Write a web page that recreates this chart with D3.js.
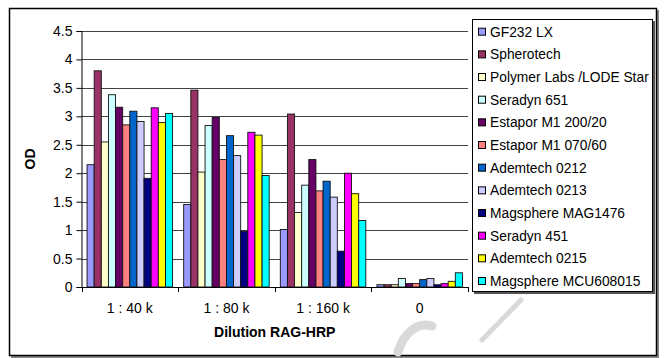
<!DOCTYPE html>
<html>
<head>
<meta charset="utf-8">
<script src="https://cdn.jsdelivr.net/npm/d3@7"></script>
<style>
  html, body { margin: 0; padding: 0; background: #fff; }
  svg { display: block; font-family: "Liberation Sans", Arial, sans-serif; }
</style>
</head>
<body>
<svg id="chart" width="664" height="358"></svg>
<script>
// Dilution categories along the x axis
const dilutions = ["1 : 40 k", "1 : 80 k", "1 : 160 k", "0"];

// Bead products (one bar per product in every dilution group)
const products = [
  "GF232 LX", "Spherotech", "Polymer Labs /LODE Star", "Seradyn 651",
  "Estapor M1 200/20", "Estapor M1 070/60", "Ademtech 0212", "Ademtech 0213",
  "Magsphere MAG1476", "Seradyn 451", "Ademtech 0215", "Magsphere MCU608015"
];

const productColors = [
  "#9999FF", "#993366", "#FFFFCC", "#CCFFFF",
  "#660066", "#FF8080", "#0066CC", "#CCCCFF",
  "#000080", "#FF00FF", "#FFFF00", "#00FFFF"
];

// OD readings, one array per dilution, in product order
const od_1_40k  = [2.15, 3.80, 2.55, 3.38, 3.16, 2.85, 3.09, 2.91, 1.91, 3.15, 2.89, 3.05];
const od_1_80k  = [1.45, 3.46, 2.02, 2.84, 2.98, 2.24, 2.66, 2.31, 0.98, 2.72, 2.67, 1.96];
const od_1_160k = [1.01, 3.04, 1.31, 1.79, 2.24, 1.69, 1.86, 1.58, 0.63, 2.00, 1.64, 1.17];
const od_blank  = [0.04, 0.04, 0.04, 0.15, 0.06, 0.06, 0.13, 0.15, 0.04, 0.06, 0.10, 0.25];

const yTickValues = [0, 0.5, 1, 1.5, 2, 2.5, 3, 3.5, 4, 4.5];
const yTickLabels = ["0", "0.5", "1", "1.5", "2", "2.5", "3", "3.5", "4", "4.5"];

const groups = [od_1_40k, od_1_80k, od_1_160k, od_blank];
const rows = [];
groups.forEach((vals, gi) => vals.forEach((v, pi) => rows.push({ cat: dilutions[gi], prod: products[pi], color: productColors[pi], value: v })));

const svg = d3.select("#chart");

// outer chart frame with a slight drop shadow
svg.append("rect").attr("x", 11).attr("y", 10).attr("width", 648).attr("height", 348).attr("fill", "#888");
svg.append("rect").attr("x", 9.5).attr("y", 8.5).attr("width", 647).attr("height", 347)
  .attr("fill", "#fff").attr("stroke", "#000").attr("stroke-width", 1.5);

// faint background lettering fragments
const mark = svg.append("g").attr("fill", "none").attr("stroke", "#d9d9d9").attr("stroke-linecap", "round");
mark.append("path").attr("d", "M432,326 C418,322 404,332 398,352").attr("stroke-width", 9);
mark.append("path").attr("d", "M521,300 L482,340").attr("stroke-width", 5);

const plot = { left: 81.5, right: 468, top: 31, bottom: 287 };

const x0 = d3.scaleBand().domain(dilutions).range([plot.left, plot.right]).paddingInner(0).paddingOuter(0);
const x1 = d3.scaleBand().domain(products).range([0, x0.bandwidth()]).paddingInner(0).paddingOuter(0.78);
const y = d3.scaleLinear().domain([0, 4.5]).range([plot.bottom, plot.top]);

// horizontal gridlines
svg.append("g").selectAll("line").data(yTickValues.filter(d => d > 0)).join("line")
  .attr("x1", plot.left).attr("x2", plot.right)
  .attr("y1", d => Math.round(y(d)) + 0.5).attr("y2", d => Math.round(y(d)) + 0.5)
  .attr("stroke", "#444").attr("stroke-width", 1);

// bars
svg.append("g").selectAll("rect").data(rows).join("rect")
  .attr("x", d => x0(d.cat) + x1(d.prod))
  .attr("y", d => y(d.value))
  .attr("width", x1.bandwidth())
  .attr("height", d => y(0) - y(d.value))
  .attr("fill", d => d.color)
  .attr("stroke", "#111").attr("stroke-width", 0.9);

// y axis
const yAxis = d3.axisLeft(y).tickValues(yTickValues).tickFormat((d, i) => yTickLabels[i]).tickSize(5).tickPadding(4);
const gy = svg.append("g").attr("transform", `translate(${plot.left},0)`).call(yAxis);
gy.select(".domain").attr("stroke", "#000");
gy.selectAll(".tick line").attr("stroke", "#000");
gy.selectAll("text").attr("font-size", 14).attr("fill", "#000").attr("font-family", "Liberation Sans, Arial, sans-serif");

// x axis with ticks between categories
const gx = svg.append("g").attr("transform", `translate(0,${plot.bottom})`);
gx.append("line").attr("x1", plot.left).attr("x2", plot.right).attr("y1", 0.5).attr("y2", 0.5).attr("stroke", "#000");
const boundaries = dilutions.map(d => x0(d)).concat([plot.right]);
gx.selectAll("line.tk").data(boundaries).join("line").attr("class", "tk")
  .attr("x1", d => Math.round(d) + 0.5).attr("x2", d => Math.round(d) + 0.5)
  .attr("y1", 0).attr("y2", 5).attr("stroke", "#000");
gx.selectAll("text").data(dilutions).join("text")
  .attr("x", d => x0(d) + x0.bandwidth() / 2).attr("y", 26)
  .attr("text-anchor", "middle").attr("font-size", 14).attr("fill", "#000")
  .text(d => d);

// axis titles
svg.append("text").attr("x", (plot.left + plot.right) / 2).attr("y", 337)
  .attr("text-anchor", "middle").attr("font-size", 14).attr("font-weight", "bold").text("Dilution RAG-HRP");
svg.append("text").attr("transform", `translate(35,${(plot.top + plot.bottom) / 2}) rotate(-90)`)
  .attr("text-anchor", "middle").attr("font-size", 14).attr("font-weight", "bold").text("OD");

// legend
const lg = svg.append("g");
lg.append("rect").attr("x", 474).attr("y", 21).attr("width", 181).attr("height", 273).attr("fill", "#555");
lg.append("rect").attr("x", 472.5).attr("y", 19.5).attr("width", 180).attr("height", 272)
  .attr("fill", "#fff").attr("stroke", "#000").attr("stroke-width", 1);
const ly = d3.scalePoint().domain(products).range([31.7, 281]);
const items = lg.selectAll("g.item").data(products).join("g").attr("class", "item")
  .attr("transform", d => `translate(0,${ly(d)})`);
items.append("rect").attr("x", 478.5).attr("y", -3.5).attr("width", 7).attr("height", 7)
  .attr("fill", (d, i) => productColors[i]).attr("stroke", "#000").attr("stroke-width", 1);
items.append("text").attr("x", 490).attr("y", 5).attr("font-size", 13.8).attr("fill", "#000")
  .text(d => d);
</script>
</body>
</html>
